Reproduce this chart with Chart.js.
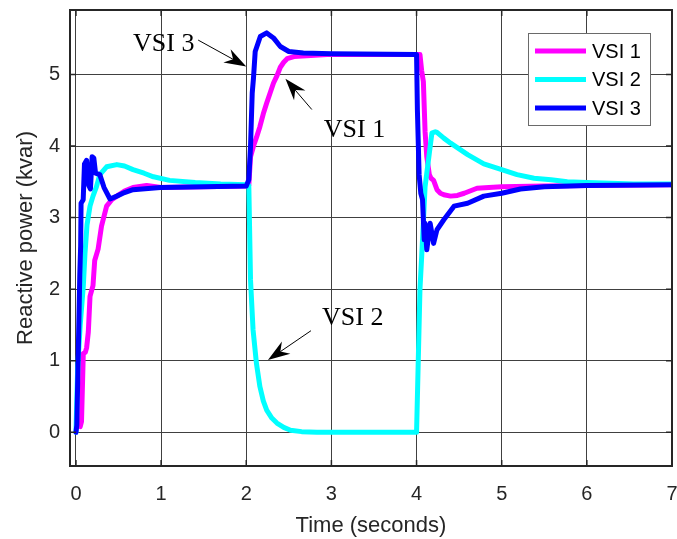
<!DOCTYPE html>
<html>
<head>
<meta charset="UTF-8">
<title>Reactive power</title>
<script src="https://cdn.jsdelivr.net/npm/chart.js@4/dist/chart.umd.min.js"></script>
<style>
  body { margin: 0; background: #fff; }
  #chart { display: block; }
</style>
</head>
<body>
<canvas id="chart" width="677" height="539"></canvas>
<script>
// --- data ---
const xTicks = [0, 1, 2, 3, 4, 5, 6, 7];
const yTicks = [0, 1, 2, 3, 4, 5];
const seriesNames = ['VSI 1', 'VSI 2', 'VSI 3'];

const tVsi1 = [0.05,0.065,0.075,0.086,0.11,0.125,0.145,0.165,0.2,0.22,0.26,0.3,0.36,0.42,0.48,0.57,0.67,0.83,1.0,1.5,2.0,2.03,2.05,2.085,2.12,2.16,2.2,2.24,2.28,2.32,2.36,2.4,2.44,2.48,2.56,2.71,2.95,3.5,4.04,4.06,4.08,4.1,4.12,4.15,4.17,4.2,4.24,4.28,4.32,4.4,4.48,4.56,4.71,4.85,5.0,5.5,6.0,7.0];
const qVsi1 = [0.08,0.15,0.6,1.1,1.12,1.18,1.4,1.9,2.05,2.4,2.56,2.88,3.16,3.25,3.3,3.37,3.42,3.45,3.42,3.43,3.44,3.45,3.85,4.0,4.12,4.27,4.45,4.6,4.74,4.88,4.98,5.1,5.17,5.22,5.25,5.26,5.28,5.28,5.28,5.05,4.9,4.2,3.85,3.6,3.55,3.52,3.39,3.34,3.32,3.3,3.31,3.34,3.41,3.42,3.43,3.44,3.45,3.46];

const tVsi2 = [0,0.02,0.05,0.086,0.106,0.13,0.165,0.2,0.24,0.28,0.36,0.48,0.57,0.67,0.8,0.91,1.1,1.4,1.7,2.0,2.03,2.05,2.08,2.12,2.16,2.2,2.24,2.3,2.36,2.44,2.52,2.65,2.83,4.0,4.02,4.04,4.06,4.1,4.15,4.18,4.22,4.24,4.32,4.4,4.5,4.6,4.79,5.0,5.18,5.38,5.58,5.77,6.0,6.55,7.0];
const qVsi2 = [0,0.9,1.5,2.04,2.5,2.9,3.16,3.3,3.43,3.6,3.71,3.74,3.72,3.67,3.62,3.57,3.52,3.49,3.47,3.46,3.45,2.13,1.43,0.96,0.64,0.44,0.31,0.2,0.13,0.07,0.03,0.01,0,0,1.0,2.0,2.45,3.43,3.9,4.18,4.2,4.19,4.11,4.04,3.96,3.88,3.75,3.67,3.6,3.55,3.53,3.5,3.49,3.47,3.47];

const tVsi3 = [0,0.01,0.03,0.045,0.055,0.06,0.085,0.1,0.125,0.15,0.17,0.19,0.21,0.23,0.28,0.33,0.4,0.48,0.57,0.67,0.99,1.5,2.0,2.03,2.05,2.07,2.085,2.105,2.165,2.24,2.32,2.4,2.5,2.67,3.0,4.0,4.01,4.03,4.05,4.07,4.09,4.1,4.12,4.16,4.2,4.24,4.32,4.44,4.6,4.79,5.0,5.22,5.5,6.0,7.0];
const qVsi3 = [0,0.1,1.29,2.2,2.6,3.2,3.25,3.75,3.8,3.45,3.4,3.85,3.83,3.62,3.6,3.42,3.26,3.3,3.35,3.39,3.42,3.43,3.44,3.53,3.99,4.74,4.95,5.32,5.53,5.58,5.51,5.39,5.32,5.3,5.29,5.28,4.5,3.6,3.34,3.25,2.69,2.92,2.55,2.92,2.64,2.83,2.97,3.16,3.2,3.3,3.34,3.4,3.43,3.45,3.46];

// text labels with arrows, in data units: text anchor, arrow tail, arrow tip
const notes = [
  { text: 'VSI 3', tx: 0.67, ty: 5.33, x0: 1.435, y0: 5.48, x1: 2.0, y1: 5.11 },
  { text: 'VSI 1', tx: 2.91, ty: 4.13, x0: 2.77, y0: 4.51, x1: 2.46, y1: 4.94 },
  { text: 'VSI 2', tx: 2.89, ty: 1.50, x0: 2.76, y0: 1.42, x1: 2.255, y1: 1.01 }
];

const colors = ['#ff00ff', '#00ffff', '#0000ff'];
const sans = "'Liberation Sans', Arial, sans-serif";
const serif = "'Liberation Serif', 'Times New Roman', serif";
const axisColor = '#262626';

function pts(ts, qs) {
  return ts.map((t, i) => ({ x: t, y: qs[i] }));
}

function arrow(ctx, ax, ay, bx, by) {
  const ang = Math.atan2(by - ay, bx - ax);
  const L = 22, W = 7.5, N = 15;
  const c = Math.cos(ang), s = Math.sin(ang);
  ctx.beginPath();
  ctx.moveTo(ax, ay);
  ctx.lineTo(bx - c * N, by - s * N);
  ctx.stroke();
  ctx.beginPath();
  ctx.moveTo(bx, by);
  ctx.lineTo(bx - c * L - s * W, by - s * L + c * W);
  ctx.lineTo(bx - c * N, by - s * N);
  ctx.lineTo(bx - c * L + s * W, by - s * L - c * W);
  ctx.closePath();
  ctx.fill();
}

const overlay = {
  id: 'overlay',
  afterDatasetsDraw(chart) {
    const { ctx, chartArea: a, scales: { x, y } } = chart;
    ctx.save();
    // inward tick marks
    ctx.strokeStyle = axisColor;
    ctx.lineWidth = 1.5;
    xTicks.forEach(v => {
      const px = x.getPixelForValue(v);
      ctx.beginPath();
      ctx.moveTo(px, a.bottom); ctx.lineTo(px, a.bottom - 6);
      ctx.moveTo(px, a.top); ctx.lineTo(px, a.top + 6);
      ctx.stroke();
    });
    yTicks.forEach(v => {
      const py = y.getPixelForValue(v);
      ctx.beginPath();
      ctx.moveTo(a.left, py); ctx.lineTo(a.left + 6, py);
      ctx.moveTo(a.right, py); ctx.lineTo(a.right - 6, py);
      ctx.stroke();
    });
    // box
    ctx.lineWidth = 2;
    ctx.strokeRect(a.left, a.top, a.right - a.left, a.bottom - a.top);

    // annotations
    ctx.fillStyle = '#000';
    ctx.strokeStyle = '#000';
    ctx.lineWidth = 1;
    ctx.font = '26px ' + serif;
    ctx.textBaseline = 'alphabetic';
    ctx.textAlign = 'left';
    notes.forEach(n => {
      ctx.fillText(n.text, x.getPixelForValue(n.tx), y.getPixelForValue(n.ty));
      arrow(ctx, x.getPixelForValue(n.x0), y.getPixelForValue(n.y0),
        x.getPixelForValue(n.x1), y.getPixelForValue(n.y1));
    });

    // legend
    const bx = a.right - 144, by = a.top + 23, bw = 122, bh = 92;
    ctx.fillStyle = '#fff';
    ctx.fillRect(bx, by, bw, bh);
    ctx.strokeStyle = '#6a6a6a';
    ctx.lineWidth = 1;
    ctx.strokeRect(bx + 0.5, by + 0.5, bw, bh);
    ctx.font = '20px ' + sans;
    ctx.textBaseline = 'middle';
    seriesNames.forEach((name, i) => {
      const ly = by + 18 + i * 28.5;
      ctx.strokeStyle = colors[i];
      ctx.lineWidth = 5;
      ctx.beginPath();
      ctx.moveTo(bx + 7, ly); ctx.lineTo(bx + 58, ly);
      ctx.stroke();
      ctx.fillStyle = '#000';
      ctx.fillText(name, bx + 64, ly + 1);
    });
    ctx.restore();
  }
};

new Chart(document.getElementById('chart'), {
  type: 'line',
  data: {
    datasets: [
      { label: seriesNames[0], data: pts(tVsi1, qVsi1), borderColor: colors[0], order: 2 },
      { label: seriesNames[1], data: pts(tVsi2, qVsi2), borderColor: colors[1], order: 1 },
      { label: seriesNames[2], data: pts(tVsi3, qVsi3), borderColor: colors[2], order: 0 }
    ]
  },
  options: {
    responsive: false,
    animation: false,
    devicePixelRatio: 1,
    parsing: true,
    elements: {
      line: { borderWidth: 5, tension: 0, borderJoinStyle: 'round', borderCapStyle: 'round' },
      point: { radius: 0 }
    },
    layout: { padding: { left: 0, right: 5, top: 10, bottom: 0 } },
    plugins: { legend: { display: false }, tooltip: { enabled: false } },
    scales: {
      x: {
        type: 'linear',
        min: -0.07,
        max: 7,
        afterBuildTicks: s => { s.ticks = xTicks.map(v => ({ value: v })); },
        afterFit: s => { s.height = 73; s.paddingLeft = 0; s.paddingRight = 0; },
        ticks: { includeBounds: false, padding: 16, color: axisColor, font: { family: sans, size: 20 } },
        grid: { color: '#404040', lineWidth: 1, drawTicks: false },
        border: { display: false },
        title: { display: true, text: 'Time (seconds)', color: axisColor, font: { family: sans, size: 22 }, padding: { top: 0, bottom: 0 } }
      },
      y: {
        type: 'linear',
        min: -0.47,
        max: 5.9,
        afterBuildTicks: s => { s.ticks = yTicks.map(v => ({ value: v })); },
        afterFit: s => { s.width = 70; s.paddingTop = 0; s.paddingBottom = 0; },
        ticks: { includeBounds: false, padding: 10, color: axisColor, font: { family: sans, size: 20 } },
        grid: { color: '#404040', lineWidth: 1, drawTicks: false },
        border: { display: false },
        title: { display: true, text: 'Reactive power (kvar)', color: axisColor, font: { family: sans, size: 22 }, padding: { top: 13, bottom: 0 } }
      }
    }
  },
  plugins: [overlay]
});
</script>
</body>
</html>
